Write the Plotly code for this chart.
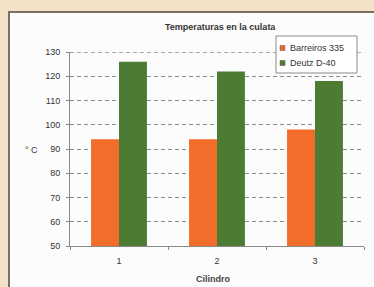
import plotly.graph_objects as go

categories = ["1", "2", "3"]
barreiros = [94, 94, 98]
deutz = [126, 122, 118]
series_names = ["Barreiros 335", "Deutz D-40"]
series_colors = ["#f26c2a", "#4c7c33"]
y_ticks = [50, 60, 70, 80, 90, 100, 110, 120, 130]

W, H = 374, 287
L, R, T, B = 70, 10, 52, 41
pw, ph = W - L - R, H - T - B

def px_x(x):
    return (x - L) / pw

def px_y(y):
    return (H - B - y) / ph

fig = go.Figure()
for name, vals, col in zip(series_names, [barreiros, deutz], series_colors):
    fig.add_trace(go.Bar(x=categories, y=vals, name=name,
                         marker=dict(color=col, line=dict(width=0))))

shapes = [dict(type="rect", xref="paper", yref="paper",
               x0=px_x(9), x1=px_x(380), y0=px_y(295), y1=px_y(12),
               fillcolor="#fdfcfd", line=dict(color="#7a6f66", width=2),
               layer="below")]
# top gridline (at the range edge)
shapes.append(dict(type="line", xref="paper", yref="y", x0=0, x1=1,
                   y0=y_ticks[-1], y1=y_ticks[-1],
                   line=dict(color="#555555", width=1, dash="4px,3px"), layer="between"))
# manual legend box
shapes.append(dict(type="rect", xref="paper", yref="paper",
                   x0=px_x(276), x1=px_x(357), y0=px_y(73), y1=px_y(36),
                   fillcolor="#ffffff", line=dict(color="#8a8a8a", width=1),
                   layer="above"))

def ann(text, x, y, size=9, color="#333", xanchor="center"):
    return dict(text=text, xref="paper", yref="paper", x=px_x(x), y=px_y(y),
                xanchor=xanchor, yanchor="middle", showarrow=False,
                font=dict(size=size, color=color))

annotations = [
    ann("<b>Temperaturas en la culata</b>", 220, 27),
    ann("° C", 31, 150),
    ann("<b>Cilindro</b>", 213, 279, color="#444"),
]
for i, (name, col) in enumerate(zip(series_names, series_colors)):
    cy = 48 + i * 15
    shapes.append(dict(type="rect", xref="paper", yref="paper",
                       x0=px_x(280), x1=px_x(285), y0=px_y(cy + 2.5), y1=px_y(cy - 2.5),
                       fillcolor=col, line=dict(color="#555", width=0.5), layer="above"))
    annotations.append(ann(name, 288, cy, xanchor="left"))

fig.update_layout(
    width=W, height=H,
    margin=dict(l=L, r=R, t=T, b=B, autoexpand=False),
    paper_bgcolor="#f4e2c6",
    plot_bgcolor="#fdfcfd",
    barmode="group", bargap=0.43, bargroupgap=0,
    font=dict(family="Liberation Sans, Arial", size=9, color="#333"),
    showlegend=False,
    xaxis=dict(showgrid=False, showline=True, linecolor="#888", linewidth=1,
               ticks="outside", tickson="boundaries", ticklen=3, tickcolor="#888",
               ticklabelstandoff=6,
               tickfont=dict(size=9, color="#333"), automargin=False),
    yaxis=dict(range=[50, 130], tickvals=y_ticks, showline=True, linecolor="#888",
               linewidth=1, ticks="outside", ticklen=3, tickcolor="#888",
               ticklabelstandoff=4,
               showgrid=True, gridcolor="#8a8a8a", griddash="4px,3px", gridwidth=1,
               zeroline=False, tickfont=dict(size=9, color="#333"), automargin=False),
    shapes=shapes,
    annotations=annotations,
)

fig.write_html("out.html", config={"displayModeBar": False},
               post_script="document.body.style.margin='0';document.body.style.overflow='hidden';")
